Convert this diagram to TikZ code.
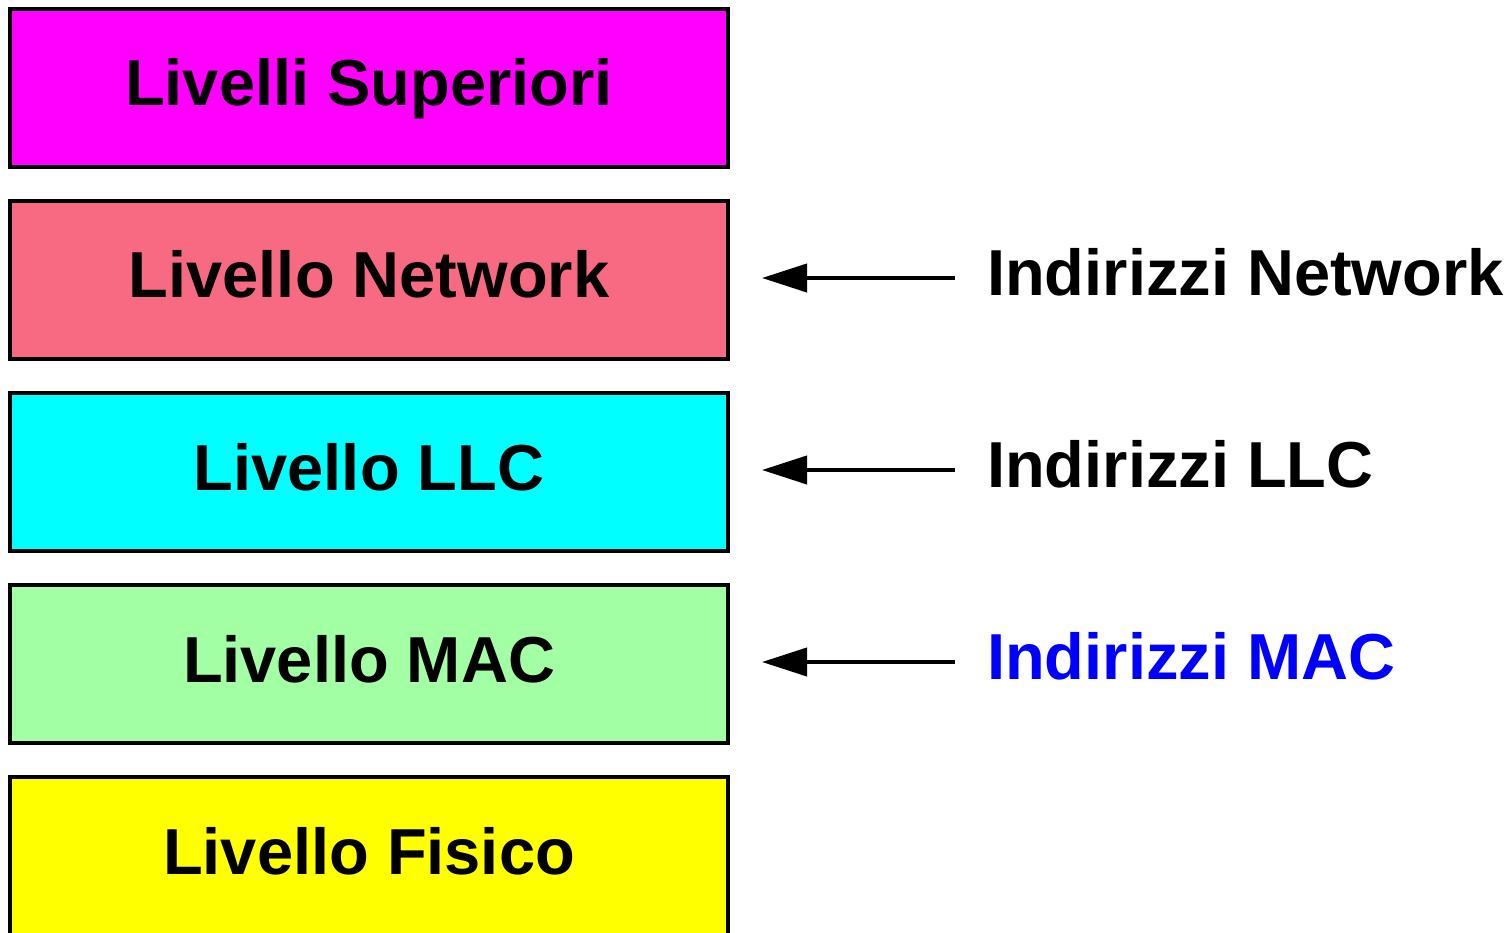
\documentclass[tikz,border=0pt]{standalone}
\usepackage{fontspec}
\setmainfont{Liberation Sans}
\usetikzlibrary{arrows.meta}
\definecolor{cSup}{HTML}{FF00FF}
\definecolor{cNet}{HTML}{F76A82}
\definecolor{cLLC}{HTML}{00FFFF}
\definecolor{cMAC}{HTML}{A3FFA3}
\definecolor{cFis}{HTML}{FFFF00}
\definecolor{cBlue}{HTML}{0000FF}
\tikzset{
  layer/.style={draw=black, line width=4pt, minimum width=718pt, minimum height=158pt, inner sep=0pt,
     font=\fontsize{65}{72}\selectfont\bfseries, text height=47pt, text depth=11pt},
  addr/.style={anchor=west, inner sep=0pt, font=\fontsize{65}{72}\selectfont\bfseries},
  arr/.style={line width=4pt, -{Triangle[length=45pt,width=28pt]}}
}
\begin{document}
\begin{tikzpicture}[x=1pt,y=-1pt]
\useasboundingbox (0,0) rectangle (1512,933);
\node[layer, fill=cSup] (sup) at (369,88) {Livelli Superiori};
\node[layer, fill=cNet] (net) at (369,280) {Livello Network};
\node[layer, fill=cLLC] (llc) at (369,472) {Livello LLC};
\node[layer, fill=cMAC] (mac) at (369,664) {Livello MAC};
\node[layer, fill=cFis] (fis) at (369,856) {Livello Fisico};
\node[addr] (anet) at (987,272) {Indirizzi Network};
\node[addr] (allc) at (987,464) {Indirizzi LLC};
\node[addr, text=cBlue] (amac) at (987,656) {Indirizzi MAC};
\coordinate (snet) at (955,278); \coordinate (enet) at (762,278);
\coordinate (sllc) at (955,470); \coordinate (ellc) at (762,470);
\coordinate (smac) at (955,662); \coordinate (emac) at (762,662);
\draw[arr] (snet) -- (enet);
\draw[arr] (sllc) -- (ellc);
\draw[arr] (smac) -- (emac);
\end{tikzpicture}
\end{document}
